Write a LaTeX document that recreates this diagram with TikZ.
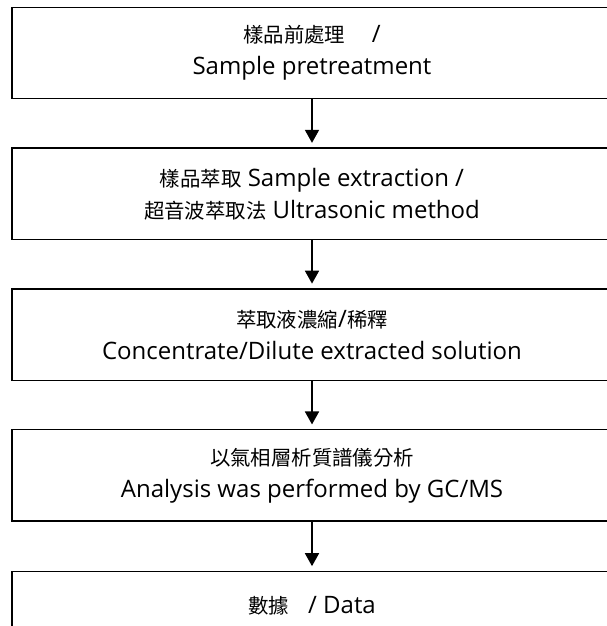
\documentclass[tikz,border=0pt]{standalone}
\usepackage{fontspec}
\setmainfont{Open Sans}
\newfontfamily\cjk{Noto Sans CJK TC}[Scale=0.85]
\usetikzlibrary{arrows.meta}

\begin{document}
\begin{tikzpicture}[->,>={Triangle[length=13pt,width=14pt]},line width=1.8pt,
        shorten >=4.5pt,node distance=140.8pt,
        stepbox/.style={draw,line width=1.5pt,minimum width=600pt,minimum height=91.4pt,
            align=center,font=\fontsize{24}{32}\selectfont}]

    \path[use as bounding box,fill=white] (0pt,0pt) rectangle (606pt,-626pt);

    \node[stepbox] (1) at (312pt,-53pt) {{\cjk 樣品前處理}\hspace{1.1em}/\\Sample pretreatment};
    \node[stepbox] (2) [below of=1] {{\cjk 樣品萃取} Sample extraction /\\{\cjk 超音波萃取法} Ultrasonic method};
    \node[stepbox] (3) [below of=2] {{\cjk 萃取液濃縮}/{\cjk 稀釋}\\Concentrate/Dilute extracted solution};
    \node[stepbox] (4) [below of=3] {{\cjk 以氣相層析質譜儀分析}\\Analysis was performed by GC/MS};
    \node[stepbox,minimum height=68pt] (5) [below of=4,node distance=130pt] {{\cjk 數據}\hspace{0.8em}/ Data};

    \path (1) edge (2)
        (2) edge (3)
        (3) edge (4)
        (4) edge (5);

\end{tikzpicture}
\end{document}
